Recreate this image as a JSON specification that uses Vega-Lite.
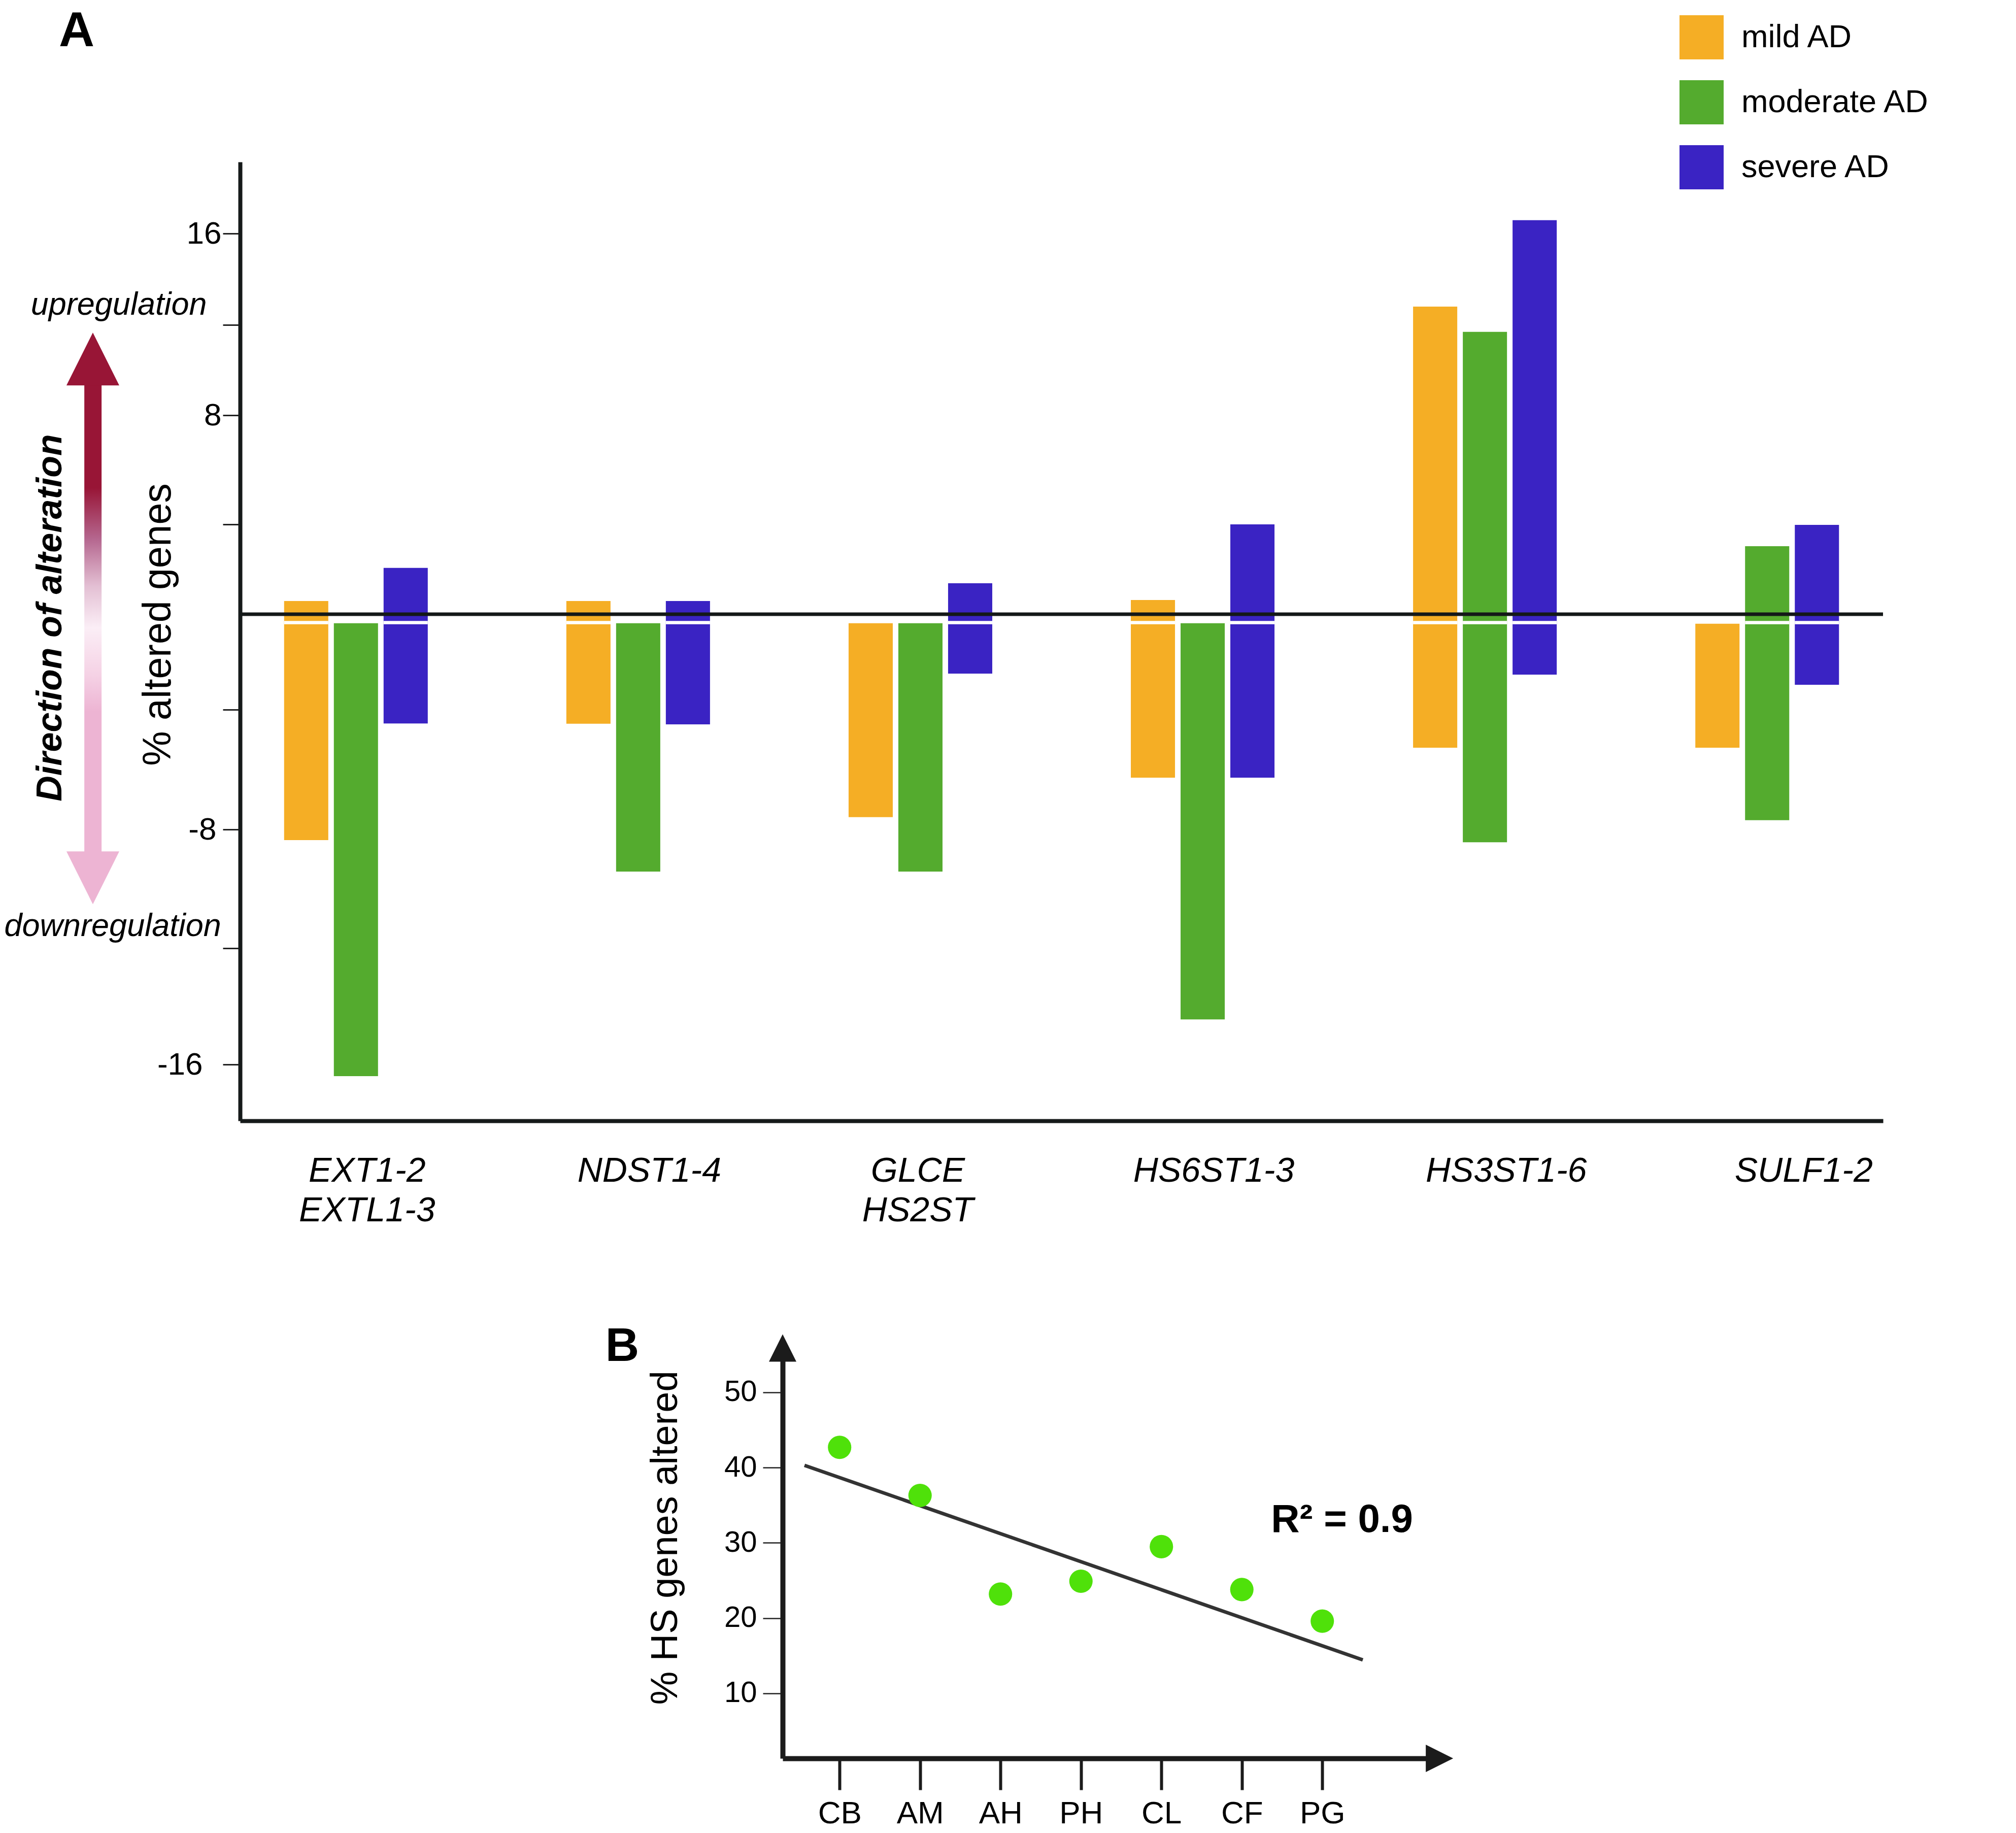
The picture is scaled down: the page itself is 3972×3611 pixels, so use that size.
{
  "$schema": "https://vega.github.io/schema/vega-lite/v6.json",
  "background": "white",
  "padding": {"left": 8, "top": 12, "right": 10, "bottom": 10},
  "bounds": "flush",
  "spacing": 473,
  "config": {
    "view": {"stroke": null},
    "font": "Liberation Sans",
    "axis": {"grid": false}
  },
  "datasets": {
    "hs": [
      {"group": "EXT1-2, EXTL1-3", "stage": "mild AD", "hi": 0.59, "lo": -8.36},
      {"group": "EXT1-2, EXTL1-3", "stage": "moderate AD", "hi": -0.38, "lo": -16.4},
      {"group": "EXT1-2, EXTL1-3", "stage": "severe AD", "hi": 2.06, "lo": -4.46},
      {"group": "NDST1-4", "stage": "mild AD", "hi": 0.59, "lo": -4.47},
      {"group": "NDST1-4", "stage": "moderate AD", "hi": -0.38, "lo": -9.42},
      {"group": "NDST1-4", "stage": "severe AD", "hi": 0.59, "lo": -4.49},
      {"group": "GLCE, HS2ST", "stage": "mild AD", "hi": -0.38, "lo": -7.59},
      {"group": "GLCE, HS2ST", "stage": "moderate AD", "hi": -0.38, "lo": -9.42},
      {"group": "GLCE, HS2ST", "stage": "severe AD", "hi": 1.38, "lo": -2.49},
      {"group": "HS6ST1-3", "stage": "mild AD", "hi": 0.63, "lo": -6.27},
      {"group": "HS6ST1-3", "stage": "moderate AD", "hi": -0.38, "lo": -14.45},
      {"group": "HS6ST1-3", "stage": "severe AD", "hi": 4.0, "lo": -6.27},
      {"group": "HS3ST1-6", "stage": "mild AD", "hi": 12.8, "lo": -5.27},
      {"group": "HS3ST1-6", "stage": "moderate AD", "hi": 11.69, "lo": -8.43},
      {"group": "HS3ST1-6", "stage": "severe AD", "hi": 16.58, "lo": -2.53},
      {"group": "SULF1-2", "stage": "mild AD", "hi": -0.4, "lo": -5.27},
      {"group": "SULF1-2", "stage": "moderate AD", "hi": 3.03, "lo": -7.69},
      {"group": "SULF1-2", "stage": "severe AD", "hi": 3.98, "lo": -2.96}
    ],
    "regions": [
      {"region": "CB", "pct": 42.7},
      {"region": "AM", "pct": 36.3},
      {"region": "AH", "pct": 23.2},
      {"region": "PH", "pct": 24.9},
      {"region": "CL", "pct": 29.5},
      {"region": "CF", "pct": 23.8},
      {"region": "PG", "pct": 19.6}
    ],
    "fit": [
      {"at": 0.25, "pct": 40.3},
      {"at": 8.04, "pct": 14.45}
    ]
  },
  "vconcat": [
    {
      "width": 3237,
      "height": 1889,
      "resolve": {"scale": {"x": "independent"}},
      "layer": [
        {
          "data": {"name": "hs"},
          "layer": [
            {
              "mark": {"type": "bar", "opacity": 1},
              "encoding": {
                "x": {
                  "field": "group", "type": "nominal", "sort": null,
                  "scale": {"domain": ["EXT1-2, EXTL1-3", "NDST1-4", "GLCE, HS2ST", "HS6ST1-3", "HS3ST1-6", "SULF1-2"], "paddingInner": 0.491, "paddingOuter": 0.156},
                  "axis": {
                    "title": null, "domainWidth": 8, "domainColor": "#161a1a", "ticks": false, "tickSize": 0,
                    "labelFontSize": 68, "labelFontStyle": "italic", "labelPadding": 65, "labelAngle": 0,
                    "labelColor": "#000000", "labelLimit": 0, "labelOverlap": false,
                    "labelExpr": "split(datum.label, ', ')", "labelLineHeight": 78,
                    "labelOffset": {
                      "condition": [
                        {"test": "datum.value == 'SULF1-2'", "value": 72},
                        {"test": "datum.value == 'HS3ST1-6'", "value": 42},
                        {"test": "datum.value == 'GLCE, HS2ST'", "value": -5}
                      ],
                      "value": 22
                    }
                  }
                },
                "xOffset": {
                  "field": "stage", "type": "nominal",
                  "scale": {"domain": ["mild AD", "moderate AD", "severe AD"], "paddingInner": 0.112, "paddingOuter": 0}
                },
                "y": {
                  "field": "hi", "type": "quantitative",
                  "scale": {"domain": [-17.94, -16, -12, -8, -4, 0, 4, 8, 12, 16, 19.13], "range": [1889, 1778, 1549, 1315, 1079, 891, 714, 499, 321, 141, 0], "nice": false, "zero": false},
                  "axis": {
                    "values": [16, 12, 8, 4, -4, -8, -12, -16],
                    "labelExpr": "abs(datum.value) % 8 == 0 ? '' + datum.value : ''",
                    "domainWidth": 8, "domainColor": "#161a1a",
                    "tickSize": 34, "tickWidth": 3, "tickColor": "#222222",
                    "labelFontSize": 62, "labelColor": "#000000", "labelOverlap": false,
                    "labelPadding": {
                      "condition": [
                        {"test": "datum.value == -16", "value": 40},
                        {"test": "datum.value == -8", "value": 13}
                      ],
                      "value": 3
                    },
                    "title": "% altered genes", "titleFontSize": 77, "titleFontWeight": "normal", "titleColor": "#000000",
                    "titleX": -161, "titleY": 911, "titleBaseline": "middle", "titleAlign": "center", "titleAngle": 270
                  }
                },
                "y2": {"field": "lo"},
                "color": {
                  "field": "stage", "type": "nominal",
                  "scale": {"domain": ["mild AD", "moderate AD", "severe AD"], "range": ["#f5ae25", "#54ab2e", "#3a23c3"]},
                  "legend": {
                    "orient": "none", "legendX": 2836, "legendY": -289, "title": null, "padding": 0,
                    "symbolType": "square", "symbolSize": 7569, "symbolStrokeWidth": 0, "symbolOpacity": 1,
                    "labelFontSize": 63, "labelOffset": 35, "rowPadding": 41, "labelColor": "#000000", "labelLimit": 0
                  }
                }
              }
            },
            {
              "transform": [{"filter": "datum.hi > 0"}],
              "mark": {"type": "bar", "color": "#ffffff", "opacity": 1},
              "encoding": {
                "x": {"field": "group", "type": "nominal", "sort": null},
                "xOffset": {"field": "stage", "type": "nominal"},
                "y": {"datum": -0.28, "type": "quantitative", "scale": {"domain": [-17.94, -16, -12, -8, -4, 0, 4, 8, 12, 16, 19.13], "range": [1889, 1778, 1549, 1315, 1079, 891, 714, 499, 321, 141, 0], "nice": false, "zero": false}},
                "y2": {"datum": -0.42}
              }
            }
          ]
        },
        {
          "data": {"values": [{}]},
          "mark": {"type": "rule", "color": "#141818", "strokeWidth": 7},
          "encoding": {
            "y": {"datum": 0, "type": "quantitative", "scale": {"domain": [-17.94, -16, -12, -8, -4, 0, 4, 8, 12, 16, 19.13], "range": [1889, 1778, 1549, 1315, 1079, 891, 714, 499, 321, 141, 0], "nice": false, "zero": false}}
          }
        },
        {
          "data": {"values": [{}]},
          "mark": {
            "type": "rect",
            "fill": {"gradient": "linear", "x1": 0, "y1": 0, "x2": 0, "y2": 1, "stops": [
              {"offset": 0, "color": "#981536"},
              {"offset": 0.22, "color": "#981536"},
              {"offset": 0.33, "color": "#b5678f"},
              {"offset": 0.43, "color": "#e3bfd3"},
              {"offset": 0.52, "color": "#fbeef6"},
              {"offset": 0.62, "color": "#f5d2e5"},
              {"offset": 0.7, "color": "#edb4d3"},
              {"offset": 1, "color": "#edb4d3"}
            ]}
          },
          "encoding": {
            "x": {"datum": -9.48, "type": "quantitative", "scale": {"domain": [0, 100], "nice": false, "zero": false}, "axis": null},
            "x2": {"datum": -8.43},
            "y": {"datum": 9.33, "type": "quantitative", "scale": {"domain": [-17.94, -16, -12, -8, -4, 0, 4, 8, 12, 16, 19.13], "range": [1889, 1778, 1549, 1315, 1079, 891, 714, 499, 321, 141, 0], "nice": false, "zero": false}},
            "y2": {"datum": -8.75}
          }
        },
        {
          "data": {"values": [{}]},
          "mark": {"type": "point", "shape": "M0,-1L1,1L-1,1Z", "size": 10816, "filled": true, "color": "#981536", "opacity": 1, "strokeWidth": 0},
          "encoding": {
            "x": {"datum": -8.96, "type": "quantitative", "scale": {"domain": [0, 100], "nice": false, "zero": false}, "axis": null},
            "y": {"datum": 10.49, "type": "quantitative", "scale": {"domain": [-17.94, -16, -12, -8, -4, 0, 4, 8, 12, 16, 19.13], "range": [1889, 1778, 1549, 1315, 1079, 891, 714, 499, 321, 141, 0], "nice": false, "zero": false}}
          }
        },
        {
          "data": {"values": [{}]},
          "mark": {"type": "point", "shape": "M-1,-1L1,-1L0,1Z", "size": 10816, "filled": true, "color": "#edb4d3", "opacity": 1, "strokeWidth": 0},
          "encoding": {
            "x": {"datum": -8.96, "type": "quantitative", "scale": {"domain": [0, 100], "nice": false, "zero": false}, "axis": null},
            "y": {"datum": -9.63, "type": "quantitative", "scale": {"domain": [-17.94, -16, -12, -8, -4, 0, 4, 8, 12, 16, 19.13], "range": [1889, 1778, 1549, 1315, 1079, 891, 714, 499, 321, 141, 0], "nice": false, "zero": false}}
          }
        },
        {
          "data": {"values": [{}]},
          "mark": {"type": "text", "text": "upregulation", "fontSize": 63, "fontStyle": "italic", "align": "center", "baseline": "alphabetic", "color": "#000000"},
          "encoding": {
            "x": {"datum": -7.38, "type": "quantitative", "scale": {"domain": [0, 100], "nice": false, "zero": false}, "axis": null},
            "y": {"datum": 12.44, "type": "quantitative", "scale": {"domain": [-17.94, -16, -12, -8, -4, 0, 4, 8, 12, 16, 19.13], "range": [1889, 1778, 1549, 1315, 1079, 891, 714, 499, 321, 141, 0], "nice": false, "zero": false}}
          }
        },
        {
          "data": {"values": [{}]},
          "mark": {"type": "text", "text": "downregulation", "fontSize": 63, "fontStyle": "italic", "align": "center", "baseline": "alphabetic", "color": "#000000"},
          "encoding": {
            "x": {"datum": -7.75, "type": "quantitative", "scale": {"domain": [0, 100], "nice": false, "zero": false}, "axis": null},
            "y": {"datum": -11.59, "type": "quantitative", "scale": {"domain": [-17.94, -16, -12, -8, -4, 0, 4, 8, 12, 16, 19.13], "range": [1889, 1778, 1549, 1315, 1079, 891, 714, 499, 321, 141, 0], "nice": false, "zero": false}}
          }
        },
        {
          "data": {"values": [{}]},
          "mark": {"type": "text", "text": "Direction of alteration", "fontSize": 70, "fontStyle": "italic", "fontWeight": "bold", "angle": 270, "align": "center", "baseline": "alphabetic", "color": "#000000"},
          "encoding": {
            "x": {"datum": -10.87, "type": "quantitative", "scale": {"domain": [0, 100], "nice": false, "zero": false}, "axis": null},
            "y": {"datum": -0.15, "type": "quantitative", "scale": {"domain": [-17.94, -16, -12, -8, -4, 0, 4, 8, 12, 16, 19.13], "range": [1889, 1778, 1549, 1315, 1079, 891, 714, 499, 321, 141, 0], "nice": false, "zero": false}}
          }
        },
        {
          "data": {"values": [{}]},
          "mark": {"type": "text", "text": "A", "fontSize": 97, "fontWeight": "bold", "align": "center", "baseline": "alphabetic", "color": "#000000"},
          "encoding": {
            "x": {"datum": -9.95, "type": "quantitative", "scale": {"domain": [0, 100], "nice": false, "zero": false}, "axis": null},
            "y": {"datum": 24.2, "type": "quantitative", "scale": {"domain": [-17.94, -16, -12, -8, -4, 0, 4, 8, 12, 16, 19.13], "range": [1889, 1778, 1549, 1315, 1079, 891, 714, 499, 321, 141, 0], "nice": false, "zero": false}}
          }
        }
      ]
    },
    {
      "bounds": "flush",
      "spacing": 20,
      "hconcat": [
        {
          "width": 1049,
          "height": 10,
          "data": {"values": [{}]},
          "mark": {"type": "point", "opacity": 0}
        },
        {
          "width": 1268,
          "height": 783,
          "resolve": {"scale": {"x": "independent"}},
          "layer": [
            {
              "data": {"name": "fit"},
              "mark": {"type": "line", "color": "#333333", "strokeWidth": 7},
              "encoding": {
                "x": {"field": "at", "type": "quantitative", "scale": {"domain": [-0.055, 8.925], "nice": false, "zero": false}, "axis": null},
                "y": {"field": "pct", "type": "quantitative", "scale": {"domain": [1.36, 54.18], "nice": false, "zero": false}}
              }
            },
            {
              "data": {"name": "regions"},
              "mark": {"type": "circle", "size": 2124, "color": "#4fe10a", "opacity": 1},
              "encoding": {
                "x": {
                  "field": "region", "type": "nominal", "sort": null,
                  "scale": {"type": "point", "domain": ["CB", "AM", "AH", "PH", "CL", "CF", "PG"], "padding": 1.49, "align": 0.354},
                  "axis": {
                    "title": null, "domainWidth": 10, "domainColor": "#1b1b1b",
                    "tickSize": 62, "tickWidth": 6, "tickColor": "#1b1b1b",
                    "labelFontSize": 62, "labelPadding": 16, "labelAngle": 0, "labelColor": "#000000", "labelOverlap": false
                  }
                },
                "y": {
                  "field": "pct", "type": "quantitative",
                  "scale": {"domain": [1.36, 54.18], "nice": false, "zero": false},
                  "axis": {
                    "values": [10, 20, 30, 40, 50],
                    "domainWidth": 10, "domainColor": "#1b1b1b",
                    "tickSize": 39, "tickWidth": 2.5, "tickColor": "#222222",
                    "labelFontSize": 58, "labelPadding": 12, "labelColor": "#000000",
                    "title": "% HS genes altered", "titleFontSize": 74, "titleFontWeight": "normal", "titleColor": "#000000",
                    "titleX": -231, "titleY": 348, "titleBaseline": "middle", "titleAlign": "center", "titleAngle": 270
                  }
                }
              }
            },
            {
              "data": {"values": [{}]},
              "mark": {"type": "point", "shape": "M0,-1L1,1L-1,1Z", "size": 2916, "filled": true, "color": "#1b1b1b", "opacity": 1, "strokeWidth": 0},
              "encoding": {
                "x": {"datum": -0.055, "type": "quantitative", "scale": {"domain": [-0.055, 8.925], "nice": false, "zero": false}, "axis": null},
                "y": {"datum": 55.9, "type": "quantitative", "scale": {"domain": [1.36, 54.18], "nice": false, "zero": false}}
              }
            },
            {
              "data": {"values": [{}]},
              "mark": {"type": "point", "shape": "M-1,-1L1,0L-1,1Z", "size": 2916, "filled": true, "color": "#1b1b1b", "opacity": 1, "strokeWidth": 0},
              "encoding": {
                "x": {"datum": 9.11, "type": "quantitative", "scale": {"domain": [-0.055, 8.925], "nice": false, "zero": false}, "axis": null},
                "y": {"datum": 1.36, "type": "quantitative", "scale": {"domain": [1.36, 54.18], "nice": false, "zero": false}}
              }
            },
            {
              "data": {"values": [{}]},
              "mark": {"type": "text", "text": "R² = 0.9", "fontSize": 78, "fontWeight": "bold", "align": "center", "baseline": "middle", "color": "#000000"},
              "encoding": {
                "x": {"datum": 7.75, "type": "quantitative", "scale": {"domain": [-0.055, 8.925], "nice": false, "zero": false}, "axis": null},
                "y": {"datum": 33.0, "type": "quantitative", "scale": {"domain": [1.36, 54.18], "nice": false, "zero": false}}
              }
            },
            {
              "data": {"values": [{}]},
              "mark": {"type": "text", "text": "B", "fontSize": 92, "fontWeight": "bold", "align": "center", "baseline": "alphabetic", "color": "#000000"},
              "encoding": {
                "x": {"datum": -2.293, "type": "quantitative", "scale": {"domain": [-0.055, 8.925], "nice": false, "zero": false}, "axis": null},
                "y": {"datum": 54.18, "type": "quantitative", "scale": {"domain": [1.36, 54.18], "nice": false, "zero": false}}
              }
            }
          ]
        }
      ]
    }
  ]
}
